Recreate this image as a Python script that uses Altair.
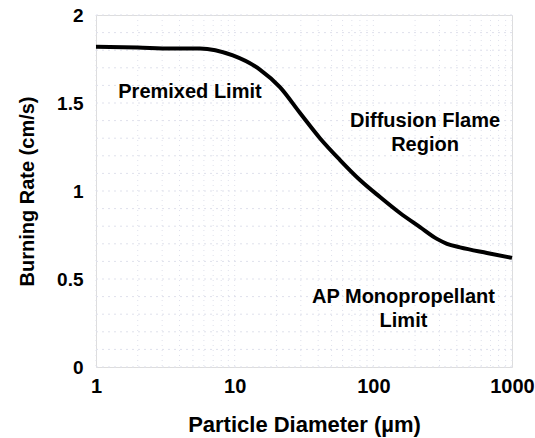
import altair as alt
import pandas as pd

diam = [1, 2, 3.5, 5.6, 9.7, 15.2, 21.2, 29.6, 41.2, 57.5, 80.1, 111.7, 155.6, 217, 287.6, 340, 421.7, 660, 1000]
rate = [1.82, 1.815, 1.81, 1.81, 1.77, 1.69, 1.59, 1.443, 1.30, 1.176, 1.0625, 0.966, 0.875, 0.795, 0.728, 0.70, 0.68, 0.648, 0.62]

x_grid = [1, 2, 3, 4, 5, 6, 7, 8, 9, 10, 20, 30, 40, 50, 60, 70, 80, 90,
          100, 200, 300, 400, 500, 600, 700, 800, 900, 1000]
x_labels = [1, 10, 100, 1000]
y_grid = [round(i * 0.1, 1) for i in range(21)]
y_labels = [0, 0.5, 1, 1.5, 2]

ann_text = [["Premixed Limit"], ["Diffusion Flame", "Region"], ["AP Monopropellant", "Limit"]]
ann_x = [4.76, 236, 165]
ann_y = [1.5625, 1.395, 0.395]

FONT = "Liberation Sans"

df = pd.DataFrame({"d": diam, "r": rate})
ann = pd.DataFrame({"text": ann_text, "x": ann_x, "y": ann_y})
gx = pd.DataFrame({"gx": x_grid})
gy = pd.DataFrame({"gy": y_grid})

xs = alt.Scale(type="log", domain=[1, 1000], nice=False)
ys = alt.Scale(domain=[0, 2], nice=False)

GRID = "#dfe1ec"

vgrid = alt.Chart(gx).mark_rule(color=GRID, strokeDash=[1, 4], strokeWidth=1).encode(
    x=alt.X("gx:Q", scale=xs)
)
hgrid = alt.Chart(gy).mark_rule(color=GRID, strokeDash=[2, 4], strokeWidth=1).encode(
    y=alt.Y("gy:Q", scale=ys)
)

line = alt.Chart(df).mark_line(color="black", strokeWidth=4, interpolate="monotone").encode(
    x=alt.X("d:Q", scale=xs, title="Particle Diameter (µm)",
            axis=alt.Axis(values=x_labels, format="d",
                          labelOverlap=False, labelFlush=False, labelBound=False,
                          grid=False, ticks=False, domain=False, labelPadding=9,
                          labelFont=FONT, labelFontSize=20, labelFontWeight="bold", labelColor="black",
                          titleFont=FONT, titleFontSize=22, titleFontWeight="bold", titleColor="black",
                          titlePadding=18)),
    y=alt.Y("r:Q", scale=ys, title="Burning Rate (cm/s)",
            axis=alt.Axis(values=y_labels, format="~g",
                          labelOverlap=False, labelFlush=False, labelBound=False,
                          grid=False, ticks=False, domain=False, labelPadding=13,
                          labelFont=FONT, labelFontSize=19, labelFontWeight="bold", labelColor="black",
                          titleFont=FONT, titleFontSize=20, titleFontWeight="bold", titleColor="black",
                          titlePadding=19)),
)

text = alt.Chart(ann).mark_text(font=FONT, fontSize=20, fontWeight="bold", color="black",
                                align="center", baseline="middle", lineHeight=24).encode(
    x=alt.X("x:Q", scale=xs),
    y=alt.Y("y:Q", scale=ys),
    text="text",
)

chart = alt.layer(vgrid, hgrid, line, text).properties(
    width=416, height=352,
    autosize=alt.AutoSizeParams(type="none"),
    padding={"left": 96, "top": 15, "right": 23, "bottom": 71},
).configure_view(stroke="black", strokeWidth=2).configure(background="white")

chart.save("out.html", embed_options={"renderer": "svg", "actions": False})
